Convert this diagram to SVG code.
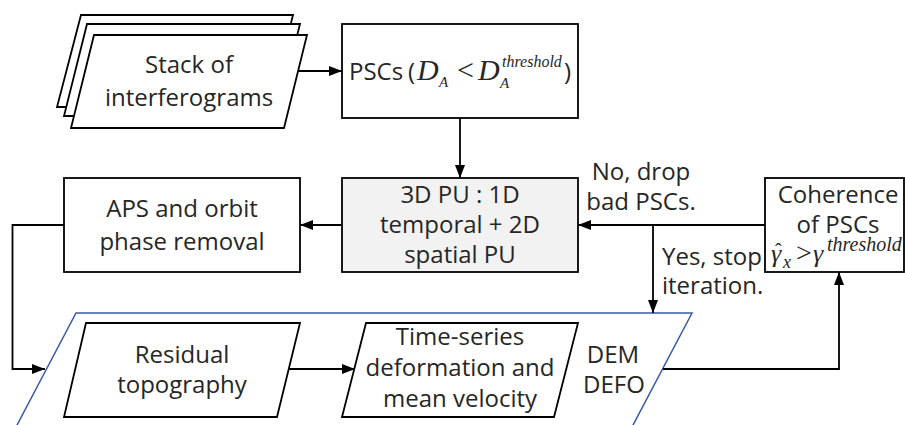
<svg xmlns="http://www.w3.org/2000/svg" width="905" height="425" viewBox="0 0 905 425">
<defs>
<marker id="arr" markerUnits="userSpaceOnUse" markerWidth="14" markerHeight="12" refX="13" refY="5" orient="auto">
<path d="M0,0 L13,5 L0,10 z" fill="#000"/>
</marker>
<style>
.box{fill:#fff;stroke:#000;stroke-width:1.8}
.t{font-family:"Open Sans","Noto Sans",sans-serif;font-size:24px;fill:#262626;text-anchor:middle}
.tl{font-family:"Open Sans","Noto Sans",sans-serif;font-size:24px;fill:#262626}
.m{font-family:"Liberation Serif","Times New Roman",serif;fill:#262626}
.i{font-style:italic}
.c{fill:none;stroke:#000;stroke-width:1.8}
</style>
</defs>
<rect width="905" height="425" fill="#fff"/>

<g id="stack">
<polygon class="box" points="81,15 293,15 270,107 57,107"/>
<polygon class="box" points="87,24 300,24 277,116 64,116"/>
<polygon class="box" points="94,35 307,35 284,128 71,128"/>
<text class="t" x="189" y="73">Stack of</text>
<text class="t" x="189" y="106">interferograms</text>
</g>

<g id="pscs">
<rect class="box" x="342" y="24" width="236" height="94"/>
<text class="tl" x="349" y="80">PSCs</text>
<text class="tl" x="408" y="80">(</text>
<text class="m i" x="417" y="80" font-size="30">D</text>
<text class="m i" x="439" y="87" font-size="15">A</text>
<text class="m" x="457" y="80" font-size="30">&lt;</text>
<text class="m i" x="478" y="80" font-size="30">D</text>
<text class="m i" x="500" y="88" font-size="15">A</text>
<text class="m i" x="502" y="67" font-size="16">threshold</text>
<text class="tl" x="564" y="80">)</text>
</g>

<g id="pu3d">
<rect class="box" x="342" y="178" width="236" height="94" style="fill:#f2f2f2"/>
<text class="t" x="460" y="203">3D PU : 1D</text>
<text class="t" x="460" y="233">temporal + 2D</text>
<text class="t" x="460" y="263">spatial PU</text>
</g>

<g id="aps">
<rect class="box" x="64" y="178" width="236" height="94"/>
<text class="t" x="182" y="217">APS and orbit</text>
<text class="t" x="182" y="250">phase removal</text>
</g>

<g id="coherence">
<rect class="box" x="765" y="178" width="139" height="94"/>
<text class="t" x="838" y="203">Coherence</text>
<text class="t" x="838" y="233">of PSCs</text>
<text class="m i" x="771" y="262" font-size="26">γ</text>
<text class="m" x="775" y="258" font-size="20">ˆ</text>
<text class="m i" x="783" y="268" font-size="18">x</text>
<text class="m" x="796" y="262" font-size="28">&gt;</text>
<text class="m i" x="813" y="262" font-size="26">γ</text>
<text class="m i" x="827" y="251" font-size="20">threshold</text>
</g>

<g id="output">
<polygon points="76,313 692,313 622,446 6,446" fill="none" stroke="#3a5aa8" stroke-width="1.5"/>
<text class="t" x="613" y="363">DEM</text>
<text class="t" x="614" y="393">DEFO</text>
</g>

<g id="residual">
<polygon class="box" points="86,323 300,323 277,417 64,417"/>
<text class="t" x="182" y="363">Residual</text>
<text class="t" x="182" y="393">topography</text>
</g>

<g id="timeseries">
<polygon class="box" points="366,323 578,323 554,417 342,417"/>
<text class="t" x="460" y="345">Time-series</text>
<text class="t" x="460" y="376">deformation and</text>
<text class="t" x="460" y="407">mean velocity</text>
</g>

<g id="labels">
<text class="t" x="641" y="180">No, drop</text>
<text class="t" x="641" y="210">bad PSCs.</text>
<text class="tl" x="662" y="265">Yes, stop</text>
<text class="tl" x="662" y="294">iteration.</text>
</g>

<g id="connectors">
<line class="c" x1="298" y1="71" x2="342" y2="71" marker-end="url(#arr)"/>
<line class="c" x1="460" y1="118" x2="460" y2="178" marker-end="url(#arr)"/>
<line class="c" x1="765" y1="225" x2="578" y2="225" marker-end="url(#arr)"/>
<line class="c" x1="342" y1="225" x2="300" y2="225" marker-end="url(#arr)"/>
<polyline class="c" points="64,225 12.5,225 12.5,369 45,369" marker-end="url(#arr)"/>
<line class="c" x1="653" y1="225" x2="653" y2="313" marker-end="url(#arr)"/>
<line class="c" x1="289" y1="369" x2="355" y2="369" marker-end="url(#arr)"/>
<polyline class="c" points="663,369 839,369 839,272" marker-end="url(#arr)"/>
</g>
</svg>
